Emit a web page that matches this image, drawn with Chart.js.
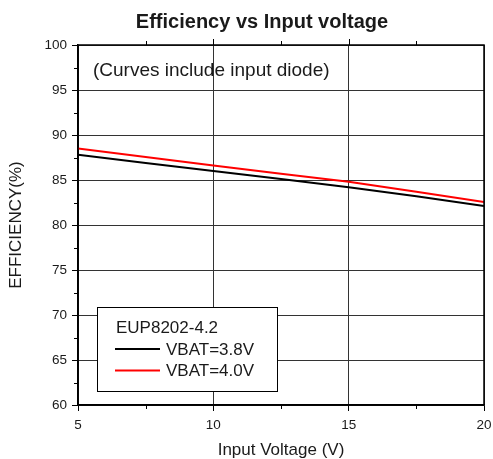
<!DOCTYPE html>
<html>
<head>
<meta charset="utf-8">
<script src="https://cdn.jsdelivr.net/npm/chart.js@4.4.0/dist/chart.umd.min.js"></script>
<style>
  body { margin: 0; background: #fff; }
  canvas { display: block; }
</style>
</head>
<body>
<canvas id="chartEff" width="493" height="459"></canvas>
<script>
// Datos
const voltages = [5, 7.5, 10, 12.5, 15, 17.5, 20];
const effVbat38 = [87.8, 86.9, 86.0, 85.1, 84.2, 83.2, 82.1];
const effVbat40 = [88.5, 87.55, 86.6, 85.7, 84.8, 83.7, 82.55];
const seriesLabels = ["VBAT=3.8V", "VBAT=4.0V"];
const xMinorTicks = [7.5, 12.5, 17.5];
const yMinorTicks = [62.5, 67.5, 72.5, 77.5, 82.5, 87.5, 92.5, 97.5];

const FONT = "'Liberation Sans', Arial, sans-serif";

function toPoints(ys) {
  return voltages.map((v, i) => ({ x: v, y: ys[i] }));
}

// Marco, ticks menores, leyenda y anotación
const extras = {
  id: "extras",
  afterDraw(chart) {
    const c = chart.ctx;
    const a = chart.chartArea;
    const sx = chart.scales.x, sy = chart.scales.y;
    c.save();
    c.strokeStyle = "#000";
    c.lineWidth = 1.5;
    c.strokeRect(a.left, a.top, a.right - a.left, a.bottom - a.top);

    c.lineWidth = 1;
    c.beginPath();
    xMinorTicks.forEach(v => {
      const px = Math.round(sx.getPixelForValue(v)) + 0.5;
      c.moveTo(px, a.bottom); c.lineTo(px, a.bottom + 4);
      c.moveTo(px, a.top); c.lineTo(px, a.top - 4);
    });
    [10, 15].forEach(v => {
      const px = Math.round(sx.getPixelForValue(v)) + 0.5;
      c.moveTo(px, a.top); c.lineTo(px, a.top - 6);
    });
    yMinorTicks.forEach(v => {
      const py = Math.round(sy.getPixelForValue(v)) + 0.5;
      c.moveTo(a.left, py); c.lineTo(a.left - 4, py);
    });
    c.stroke();

    // título
    c.fillStyle = "#1a1a1a";
    c.font = "bold 20px " + FONT;
    c.textAlign = "center";
    c.textBaseline = "middle";
    c.fillText("Efficiency vs Input voltage", 262, 22);

    // anotación
    c.font = "19px " + FONT;
    c.textAlign = "left";
    c.fillText("(Curves include input diode)", 93, 71);

    // leyenda
    c.fillStyle = "#fff";
    c.fillRect(97, 307, 180, 84);
    c.strokeStyle = "#000";
    c.lineWidth = 1;
    c.strokeRect(97.5, 307.5, 180, 84);
    c.fillStyle = "#1a1a1a";
    c.font = "17px " + FONT;
    c.fillText("EUP8202-4.2", 116, 328);
    chart.data.datasets.forEach((ds, i) => {
      const y = 349 + i * 21.5;
      c.strokeStyle = ds.borderColor;
      c.lineWidth = 2;
      c.beginPath();
      c.moveTo(115, y); c.lineTo(160, y);
      c.stroke();
      c.fillText(ds.label, 166, y + 1);
    });
    c.restore();
  }
};

new Chart(document.getElementById("chartEff"), {
  type: "line",
  data: {
    datasets: [{
      label: seriesLabels[0],
      data: toPoints(effVbat38),
      borderColor: "#000000",
      borderWidth: 2,
      pointRadius: 0,
      tension: 0
    }, {
      label: seriesLabels[1],
      data: toPoints(effVbat40),
      borderColor: "#ff0000",
      borderWidth: 2,
      pointRadius: 0,
      tension: 0
    }]
  },
  options: {
    responsive: false,
    animation: false,
    devicePixelRatio: 1,
    layout: { padding: { top: 45, right: 9, left: 0, bottom: 0 } },
    plugins: { legend: { display: false }, tooltip: { enabled: false } },
    scales: {
      x: {
        type: "linear",
        min: 5, max: 20,
        afterFit: s => { s.height = 54; s.paddingLeft = 0; s.paddingRight = 0; },
        ticks: { stepSize: 5, color: "#1a1a1a", font: { family: FONT, size: 13.5 }, padding: 6, maxRotation: 0 },
        grid: { color: "#333", lineWidth: 1, tickLength: 6, tickColor: "#000" },
        border: { display: true, color: "#000", width: 1.5 },
        title: { display: true, text: "Input Voltage (V)", color: "#1a1a1a", font: { family: FONT, size: 17, lineHeight: 1 }, padding: { top: 0, bottom: 0 } }
      },
      y: {
        min: 60, max: 100,
        afterFit: s => { s.width = 78; s.paddingTop = 0; s.paddingBottom = 0; },
        ticks: { stepSize: 5, color: "#1a1a1a", font: { family: FONT, size: 13.5 }, padding: 5 },
        grid: { color: "#333", lineWidth: 1, tickLength: 6, tickColor: "#000" },
        border: { display: true, color: "#000", width: 1.5 },
        title: { display: true, text: "EFFICIENCY(%)", color: "#1a1a1a", font: { family: FONT, size: 17 }, padding: { top: 6, bottom: 0 } }
      }
    }
  },
  plugins: [extras]
});
</script>
</body>
</html>
